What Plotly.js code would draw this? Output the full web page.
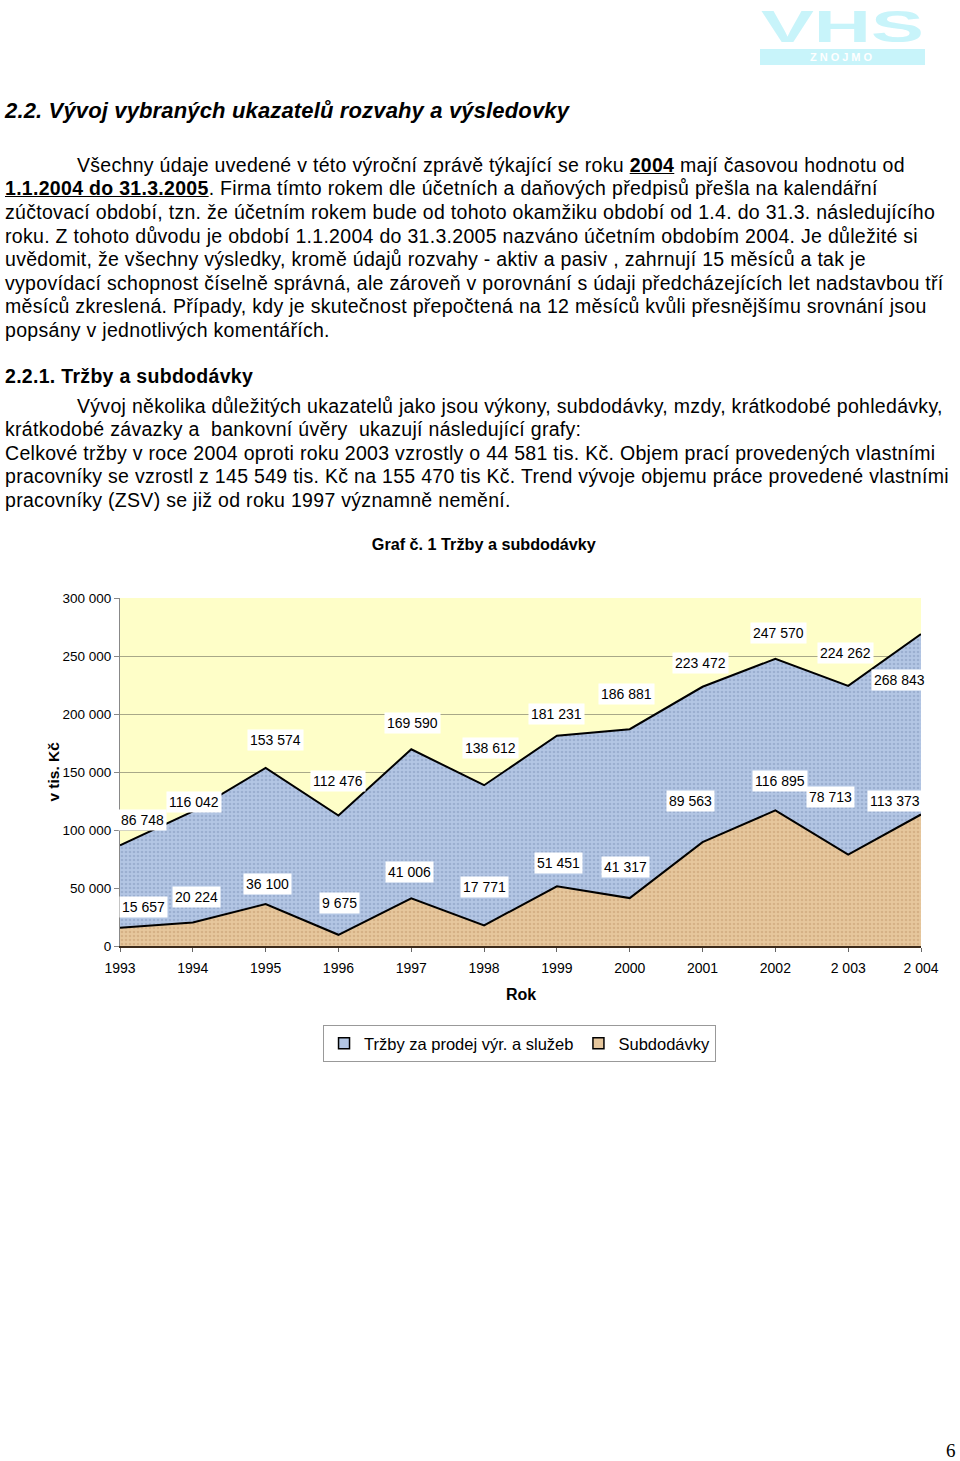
<!DOCTYPE html>
<html><head><meta charset="utf-8">
<script src="https://cdn.plot.ly/plotly-3.0.1.min.js"></script>
<style>
body{margin:0;background:#fff;width:960px;height:1461px;position:relative;overflow:hidden;font-family:"Liberation Sans",Arial,sans-serif;color:#000}
.l{position:absolute;left:5px;white-space:nowrap;font-size:19.5px;letter-spacing:0.3px;line-height:24px}
.ind{left:77px}
.h{position:absolute;left:5px;top:98px;font-size:22px;letter-spacing:0.15px;line-height:26px;font-weight:bold;font-style:italic;white-space:nowrap}
.bu{font-weight:bold;text-decoration:underline}
#logo{position:absolute;left:760px;top:0;width:166px;height:68px}
#pg{position:absolute;left:946px;top:1440px;font-family:"Liberation Serif","DejaVu Serif",serif;font-size:19px}
#chart{position:absolute;left:0;top:520px;width:960px;height:560px}
</style></head>
<body>
<svg id="logo" width="166" height="68" viewBox="0 0 166 68">
 <text x="1" y="42" font-family="Liberation Sans, Arial, sans-serif" font-weight="bold" font-size="44" fill="#c8f4fa" textLength="163" lengthAdjust="spacingAndGlyphs">VHS</text>
 <rect x="0" y="49" width="165" height="16" fill="#c8f4fa"/>
 <text x="82.5" y="61" text-anchor="middle" font-family="Liberation Sans, Arial, sans-serif" font-weight="bold" font-size="11" fill="#fff" letter-spacing="3">ZNOJMO</text>
</svg>
<div class="h">2.2. Vývoj vybraných ukazatelů rozvahy a výsledovky</div>
<div class="l ind" style="top:153px">Všechny údaje uvedené v této výroční zprávě týkající se roku <span class="bu">2004</span> mají časovou hodnotu od</div>
<div class="l" style="top:176px"><span class="bu">1.1.2004 do 31.3.2005</span>. Firma tímto rokem dle účetních a daňových předpisů přešla na kalendářní</div>
<div class="l" style="top:200px">zúčtovací období, tzn. že účetním rokem bude od tohoto okamžiku období od 1.4. do 31.3. následujícího</div>
<div class="l" style="top:224px">roku. Z tohoto důvodu je období 1.1.2004 do 31.3.2005 nazváno účetním obdobím 2004. Je důležité si</div>
<div class="l" style="top:247px">uvědomit, že všechny výsledky, kromě údajů rozvahy - aktiv a pasiv , zahrnují 15 měsíců a tak je</div>
<div class="l" style="top:271px">vypovídací schopnost číselně správná, ale zároveň v porovnání s údaji předcházejících let nadstavbou tří</div>
<div class="l" style="top:294px">měsíců zkreslená. Případy, kdy je skutečnost přepočtená na 12 měsíců kvůli přesnějšímu srovnání jsou</div>
<div class="l" style="top:318px">popsány v jednotlivých komentářích.</div>
<div class="l" style="top:364px;font-weight:bold">2.2.1. Tržby a subdodávky</div>
<div class="l ind" style="top:394px">Vývoj několika důležitých ukazatelů jako jsou výkony, subdodávky, mzdy, krátkodobé pohledávky,</div>
<div class="l" style="top:417px">krátkodobé závazky a&nbsp; bankovní úvěry&nbsp; ukazují následující grafy:</div>
<div class="l" style="top:441px">Celkové tržby v roce 2004 oproti roku 2003 vzrostly o 44 581 tis. Kč. Objem prací provedených vlastními</div>
<div class="l" style="top:464px">pracovníky se vzrostl z 145 549 tis. Kč na 155 470 tis Kč. Trend vývoje objemu práce provedené vlastními</div>
<div class="l" style="top:488px">pracovníky (ZSV) se již od roku 1997 významně nemění.</div>
<div id="chart"></div>
<div id="pg">6</div>
<script>
const years = ['1993','1994','1995','1996','1997','1998','1999','2000','2001','2002','2 003','2 004'];
const trzby = [86748,116042,153574,112476,169590,138612,181231,186881,223472,247570,224262,268843];
const subdodavky = [15657,20224,36100,9675,41006,17771,51451,41317,89563,116895,78713,113373];
const seriesNames = ['Tržby za prodej výr. a služeb','Subdodávky'];

// label offsets in pixels (layout only)
const offTrzby = [[22,25],[1,9],[10,28],[0,35],[1,26],[6,37],[0,22],[-3,35],[-2,24],[3,26],[-3,33],[-22,-46]];
const offSub = [[23,21],[4,26],[2,20],[1,32],[-2,26],[0,38],[2,23],[-4,31],[-12,41],[5,29],[-18,58],[-26,13]];

const FONT = '"Liberation Sans", Arial, sans-serif';
const BLUE = '#b3c6e4', BLUE_DOT = '#8398bb', TAN = '#e6c79d', TAN_DOT = '#c49c70';
function fmt(v){return String(v).replace(/\B(?=(\d{3})+(?!\d))/g,' ');}
const idx = years.map((_,i)=>i);

const traces = [
 {x:idx,y:trzby,name:seriesNames[0],type:'scatter',mode:'lines',fill:'tozeroy',showlegend:false,
  line:{color:'#000',width:2},fillcolor:BLUE,
  fillpattern:{shape:'.',fillmode:'overlay',fgcolor:BLUE_DOT,size:4,solidity:0.35},hoverinfo:'skip'},
 {x:idx,y:subdodavky,name:seriesNames[1],type:'scatter',mode:'lines',fill:'tozeroy',showlegend:false,
  line:{color:'#000',width:2},fillcolor:TAN,
  fillpattern:{shape:'.',fillmode:'overlay',fgcolor:TAN_DOT,size:4,solidity:0.35},hoverinfo:'skip'},
 {x:[null],y:[null],name:seriesNames[0],type:'scatter',mode:'markers',showlegend:true,
  marker:{symbol:'square',size:11,color:BLUE,line:{color:'#000',width:1.5}}},
 {x:[null],y:[null],name:seriesNames[1],type:'scatter',mode:'markers',showlegend:true,
  marker:{symbol:'square',size:11,color:TAN,line:{color:'#000',width:1.5}}}
];

const ann = [];
function addLabels(vals,offs){
 vals.forEach((v,i)=>{
  ann.push({x:i,y:v,xref:'x',yref:'y',text:fmt(v),showarrow:false,
   xshift:offs[i][0],yshift:offs[i][1],bgcolor:'#fff',borderpad:2,
   font:{family:FONT,size:14,color:'#000'}});
 });
}
addLabels(trzby,offTrzby);
addLabels(subdodavky,offSub);
ann.push({text:'v tis. Kč',xref:'paper',yref:'paper',x:-0.0973,y:0.5,textangle:-90,showarrow:false,
 font:{family:FONT,size:15.5,color:'#000',weight:'bold'}});
ann.push({text:'Rok',xref:'paper',yref:'paper',x:0.5,y:-0.138,yanchor:'middle',showarrow:false,
 font:{family:FONT,size:16,color:'#000',weight:'bold'}});

const layout = {
 width:960,height:560,
 margin:{l:120,r:39,t:78,b:134},
 paper_bgcolor:'rgba(0,0,0,0)',plot_bgcolor:'#fefec8',
 separators:', ',
 title:{text:'<b>Graf č. 1 Tržby a subdodávky</b>',x:0.504,xanchor:'center',y:1-24/560,yanchor:'middle',yref:'container',
  font:{family:FONT,size:16.2,color:'#000'}},
 showlegend:true,
 legend:{orientation:'h',x:0.4988,xanchor:'center',y:-0.227,yanchor:'top',
  bordercolor:'#999',borderwidth:1,bgcolor:'#fff',font:{family:FONT,size:16.5,color:'#000'},
  itemwidth:30,tracegroupgap:0},
 xaxis:{type:'linear',range:[0,11],tickvals:idx,ticktext:years,showgrid:false,zeroline:false,
  showline:true,linecolor:'#3b2a1a',linewidth:2,ticks:'outside',ticklen:4,tickcolor:'#666',
  ticklabelstandoff:4,tickfont:{family:FONT,size:14,color:'#000'}},
 yaxis:{range:[0,300000],dtick:50000,tickformat:',d',showgrid:true,gridcolor:'#a8a888',gridwidth:1,
  zeroline:false,showline:true,linecolor:'#888',linewidth:1,ticks:'outside',ticklen:5,tickcolor:'#888',
  tickfont:{family:FONT,size:13.5,color:'#000'}},
 annotations:ann
};
Plotly.newPlot('chart',traces,layout,{staticPlot:true,displayModeBar:false});
</script>
</body></html>
